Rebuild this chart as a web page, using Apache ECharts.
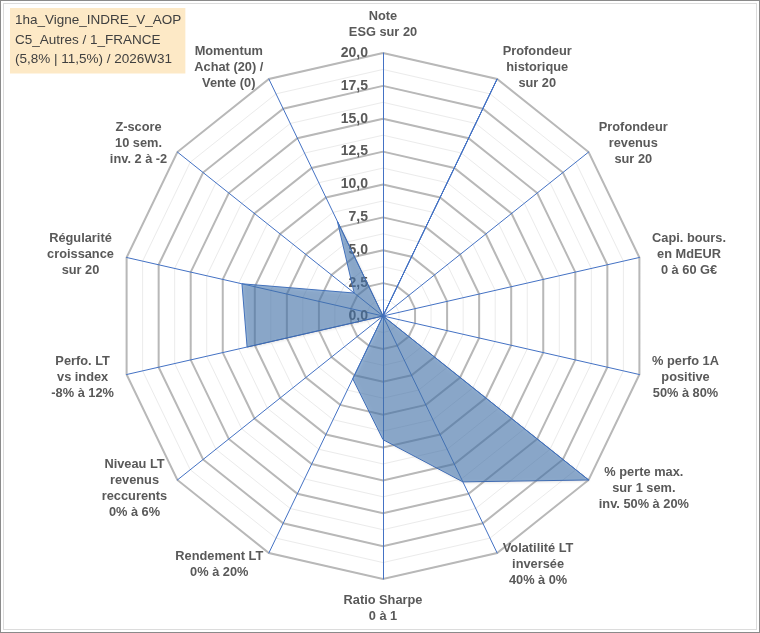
<!DOCTYPE html>
<html>
<head>
<meta charset="utf-8">
<script src="https://cdn.jsdelivr.net/npm/echarts@6/dist/echarts.min.js"></script>
<style>
html,body{margin:0;padding:0;background:#fff;}
#wrap{position:relative;width:760px;height:633px;}
#chart{position:absolute;left:0;top:0;width:760px;height:633px;}
#b1{position:absolute;left:0;top:0;width:760px;height:633px;box-sizing:border-box;border:1px solid #8a8a8a;pointer-events:none;}
#b2{position:absolute;left:3px;top:3px;width:754px;height:627px;box-sizing:border-box;border:1px solid #dcdcdc;pointer-events:none;}
</style>
</head>
<body>
<div id="wrap"><div id="chart"></div><div id="b1"></div><div id="b2"></div></div>
<script>
// Axes in clockwise order starting at the top (as in the reference)
const categories = [
  "Note\nESG sur 20",
  "Profondeur\nhistorique\nsur 20",
  "Profondeur\nrevenus\nsur 20",
  "Capi. bours.\nen MdEUR\n0 à 60 G€",
  "% perfo 1A\npositive\n50% à 80%",
  "% perte max.\nsur 1 sem.\ninv. 50% à 20%",
  "Volatilité LT\ninversée\n40% à 0%",
  "Ratio Sharpe\n0 à 1",
  "Rendement LT\n0% à 20%",
  "Niveau LT\nrevenus\nreccurents\n0% à 6%",
  "Perfo. LT\nvs index\n-8% à 12%",
  "Régularité\ncroissance\nsur 20",
  "Z-score\n10 sem.\ninv. 2 à -2",
  "Momentum\nAchat (20) /\nVente (0)"
];
const scores = [0, 20, 0, 0, 0, 20, 14.0, 9.4, 5.3, 0, 10.6, 11.0, 2.8, 8.0];
const axisMin = 0;
const axisMax = 20;
const majorStep = 2.5;
const titleLines = ["1ha_Vigne_INDRE_V_AOP", "C5_Autres / 1_FRANCE", "(5,8% | 11,5%) / 2026W31"];

// ECharts radar runs counter-clockwise: reorder to get clockwise
const order = [0];
for (let i = categories.length - 1; i >= 1; i--) order.push(i);

const fmt = v => Number(v).toFixed(1).replace('.', ',');
const labelStyle = {
  show: true, color: '#5a5a5a', fontWeight: 'bold', fontSize: 14,
  fontFamily: 'Liberation Sans, Arial, sans-serif', margin: 15,
  showMinLabel: true, showMaxLabel: true, formatter: fmt
};
const indicatorsMajor = order.map((i, k) => {
  const o = { name: categories[i], min: axisMin, max: axisMax };
  if (k === 0) o.axisLabel = labelStyle;
  return o;
});
const indicatorsMinor = order.map(i => ({ name: categories[i], min: axisMin, max: axisMax }));
const nSteps = (axisMax - axisMin) / majorStep;

const center = [383, 316];
const radius = 263;
const nameFont = { color: '#595959', fontWeight: 'bold', fontSize: 12.8,
  fontFamily: 'Liberation Sans, Arial, sans-serif', lineHeight: 16 };

const chart = echarts.init(document.getElementById('chart'), null, { renderer: 'canvas' });
chart.setOption({
  backgroundColor: '#fff',
  animation: false,
  title: {
    text: titleLines.join('\n'),
    left: 10, top: 8,
    backgroundColor: '#fde9c6',
    padding: [3, 4, 4, 5],
    textStyle: { color: '#404040', fontSize: 13.5, fontWeight: 'normal', lineHeight: 19.5,
      fontFamily: 'Liberation Sans, Arial, sans-serif' }
  },
  radar: [
    {
      center: center, radius: radius, startAngle: 90, shape: 'polygon',
      splitNumber: nSteps * 2,
      indicator: indicatorsMinor,
      axisName: { show: false },
      axisLine: { show: false },
      axisTick: { show: false },
      axisLabel: { show: false },
      splitArea: { show: false },
      splitLine: { lineStyle: { color: '#ebebeb', width: 1 } }
    },
    {
      center: center, radius: radius, startAngle: 90, shape: 'polygon',
      splitNumber: nSteps,
      indicator: indicatorsMajor,
      nameGap: 13,
      axisName: Object.assign({}, nameFont, {
        formatter: v => v.split('\n').map(s => '{c|' + s + '}').join('\n'),
        rich: { c: Object.assign({ align: 'center' }, nameFont) }
      }),
      axisLine: { show: true, lineStyle: { color: '#4472c4', width: 1 } },
      axisTick: { show: false },
      axisLabel: { show: false },
      splitArea: { show: false },
      splitLine: { lineStyle: { color: '#b8b8b8', width: 2 } }
    }
  ],
  series: [{
    type: 'radar',
    radarIndex: 1,
    symbol: 'none',
    lineStyle: { color: '#4472c4', width: 1 },
    areaStyle: { color: 'rgba(74,124,186,0.8)', shadowColor: 'rgba(0,0,0,0.25)', shadowBlur: 3, shadowOffsetX: 1, shadowOffsetY: 1 },
    data: [{ value: order.map(i => scores[i]), name: 'Score' }]
  }]
});
</script>
</body>
</html>
